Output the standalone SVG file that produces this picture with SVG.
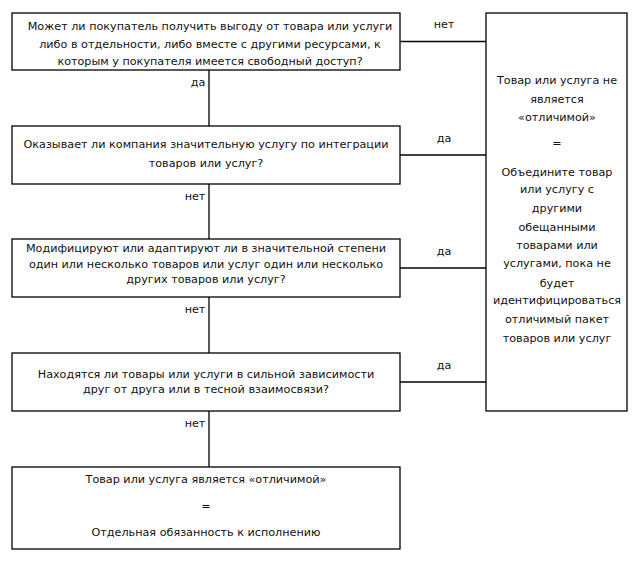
<svg xmlns="http://www.w3.org/2000/svg" width="638" height="561" viewBox="0 0 638 561">
<style>
.box{fill:#fff;stroke:#000;stroke-width:1.3}
.ln{stroke:#000;stroke-width:1.3;fill:none}
text{font-family:"DejaVu Sans","Liberation Sans",sans-serif;font-size:11.2px;fill:#111;text-anchor:middle}
</style>
<rect width="638" height="561" fill="#fff"/>
<g id="connectors">
<line class="ln" x1="209" y1="70" x2="209" y2="126"/>
<line class="ln" x1="209" y1="184" x2="209" y2="239"/>
<line class="ln" x1="209" y1="297" x2="209" y2="353"/>
<line class="ln" x1="209" y1="411" x2="209" y2="467"/>
<line class="ln" x1="400" y1="41.5" x2="486" y2="41.5"/>
<line class="ln" x1="400" y1="155" x2="486" y2="155"/>
<line class="ln" x1="400" y1="268" x2="486" y2="268"/>
<line class="ln" x1="400" y1="382" x2="486" y2="382"/>
<text x="198" y="86">да</text>
<text x="195" y="200">нет</text>
<text x="195" y="313">нет</text>
<text x="195" y="427">нет</text>
<text x="444" y="28">нет</text>
<text x="444" y="142">да</text>
<text x="444" y="255">да</text>
<text x="444" y="369">да</text>
</g>
<g id="q1">
<rect class="box" x="12" y="13" width="388" height="57"/>
<text x="210" y="30">Может ли покупатель получить выгоду от товара или услуги</text>
<text x="210" y="48">либо в отдельности, либо вместе с другими ресурсами, к</text>
<text x="210" y="65">которым у покупателя имеется свободный доступ?</text>
</g>
<g id="q2">
<rect class="box" x="12" y="126" width="388" height="58"/>
<text x="206" y="148">Оказывает ли компания значительную услугу по интеграции</text>
<text x="206" y="167">товаров или услуг?</text>
</g>
<g id="q3">
<rect class="box" x="12" y="239" width="388" height="58"/>
<text x="206" y="252">Модифицируют или адаптируют ли в значительной степени</text>
<text x="206" y="268">один или несколько товаров или услуг один или несколько</text>
<text x="206" y="283">других товаров или услуг?</text>
</g>
<g id="q4">
<rect class="box" x="12" y="353" width="388" height="58"/>
<text x="206" y="378">Находятся ли товары или услуги в сильной зависимости</text>
<text x="206" y="393">друг от друга или в тесной взаимосвязи?</text>
</g>
<g id="distinct">
<rect class="box" x="12" y="467" width="388" height="82"/>
<text x="206" y="483">Товар или услуга является «отличимой»</text>
<text x="206" y="510">=</text>
<text x="206" y="536">Отдельная обязанность к исполнению</text>
</g>
<g id="notdistinct">
<rect class="box" x="486" y="13" width="141" height="398"/>
<text x="557" y="84">Товар или услуга не</text>
<text x="557" y="103">является</text>
<text x="557" y="121">«отличимой»</text>
<text x="557" y="147">=</text>
<text x="557" y="176">Объедините товар</text>
<text x="557" y="193">или услугу с</text>
<text x="557" y="212">другими</text>
<text x="557" y="231">обещанными</text>
<text x="557" y="249">товарами или</text>
<text x="557" y="267">услугами, пока не</text>
<text x="557" y="287">будет</text>
<text x="557" y="304">идентифицироваться</text>
<text x="557" y="323">отличимый пакет</text>
<text x="557" y="342">товаров или услуг</text>
</g>
</svg>
